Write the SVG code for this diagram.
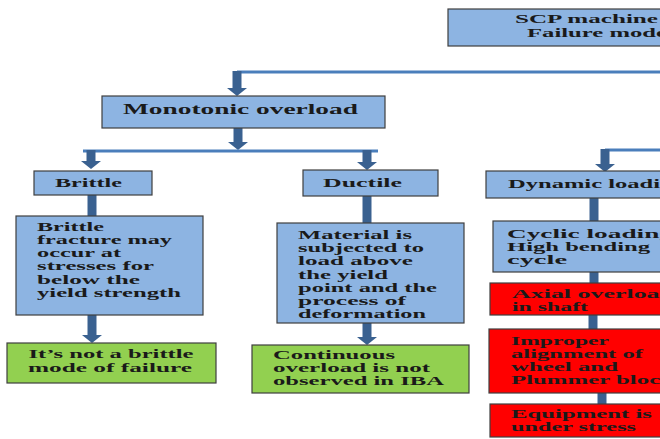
<svg xmlns="http://www.w3.org/2000/svg" width="660" height="439" viewBox="0 0 660 439">
<style>
.b{fill:#8DB4E2;stroke:#3f3f3f;stroke-width:1.2}
.r{fill:#FF0000;stroke:#3f3f3f;stroke-width:1.2}
.g{fill:#92D050;stroke:#3f3f3f;stroke-width:1.2}
.t{font-family:"Liberation Serif","Times New Roman",serif;font-size:12px;font-weight:bold;fill:#1a1a1a}
.bar{stroke:#3A6190;stroke-width:9;fill:none}
.thin{stroke:#4A7EBB;stroke-width:3;fill:none}
</style>
<defs>
<marker id="ah" markerUnits="userSpaceOnUse" viewBox="0 0 8 20" markerWidth="8" markerHeight="20" refX="0" refY="10" orient="auto">
<path d="M0,0 L8,10 L0,20 z" fill="#3A6190"/>
</marker>
</defs>
<rect width="660" height="439" fill="#ffffff"/>
<g id="connectors">
<path class="thin" d="M660,72 H237"/>
<line class="bar" x1="237" y1="71" x2="237" y2="88" marker-end="url(#ah)"/>
<line class="bar" x1="238" y1="128" x2="238" y2="142" marker-end="url(#ah)"/>
<path class="thin" d="M83,151 H378"/>
<line class="bar" x1="91" y1="150" x2="91" y2="161" marker-end="url(#ah)"/>
<line class="bar" x1="367" y1="150" x2="367" y2="162" marker-end="url(#ah)"/>
<path class="thin" d="M660,150 H605"/>
<line class="bar" x1="605" y1="149" x2="605" y2="164" marker-end="url(#ah)"/>
<line class="bar" x1="92" y1="195" x2="92" y2="216"/>
<line class="bar" x1="92" y1="315" x2="92" y2="335" marker-end="url(#ah)"/>
<line class="bar" x1="367" y1="196" x2="367" y2="223"/>
<line class="bar" x1="367" y1="323" x2="367" y2="337" marker-end="url(#ah)"/>
<line class="bar" x1="594" y1="198" x2="594" y2="221"/>
<line class="bar" x1="594" y1="272" x2="594" y2="283"/>
<line class="bar" x1="593" y1="315" x2="593" y2="329"/>
<line class="bar" x1="602" y1="393" x2="602" y2="404"/>
</g>
<g id="scp">
<rect class="b" x="448" y="9" width="230" height="37"/>
<text class="t" style="font-size:13.5px" x="515" y="23" textLength="143" lengthAdjust="spacingAndGlyphs">SCP machine</text>
<text class="t" style="font-size:13.5px" x="527" y="37" textLength="140" lengthAdjust="spacingAndGlyphs">Failure mode</text>
</g>
<g id="monotonic">
<rect class="b" x="102" y="96" width="283" height="32"/>
<text class="t" style="font-size:15px" x="123" y="114" textLength="235" lengthAdjust="spacingAndGlyphs">Monotonic overload</text>
</g>
<g id="brittle">
<rect class="b" x="34" y="171" width="118" height="24"/>
<text class="t" x="55" y="187" textLength="67" lengthAdjust="spacingAndGlyphs">Brittle</text>
</g>
<g id="brittle-desc">
<rect class="b" x="16" y="216" width="187" height="99"/>
<text class="t" x="37" y="231" textLength="67" lengthAdjust="spacingAndGlyphs">Brittle</text>
<text class="t" x="37" y="244" textLength="135" lengthAdjust="spacingAndGlyphs">fracture may</text>
<text class="t" x="37" y="257" textLength="84" lengthAdjust="spacingAndGlyphs">occur at</text>
<text class="t" x="37" y="270" textLength="117" lengthAdjust="spacingAndGlyphs">stresses for</text>
<text class="t" x="37" y="284" textLength="103" lengthAdjust="spacingAndGlyphs">below the</text>
<text class="t" x="37" y="297" textLength="144" lengthAdjust="spacingAndGlyphs">yield strength</text>
</g>
<g id="brittle-result">
<rect class="g" x="7" y="343" width="209" height="40"/>
<text class="t" x="111" y="358" text-anchor="middle" textLength="165" lengthAdjust="spacingAndGlyphs">It’s not a brittle</text>
<text class="t" x="110" y="372" text-anchor="middle" textLength="164" lengthAdjust="spacingAndGlyphs">mode of failure</text>
</g>
<g id="ductile">
<rect class="b" x="303" y="170" width="135" height="26"/>
<text class="t" x="323" y="187" textLength="79" lengthAdjust="spacingAndGlyphs">Ductile</text>
</g>
<g id="ductile-desc">
<rect class="b" x="277" y="223" width="187" height="100"/>
<text class="t" x="298" y="239" textLength="114" lengthAdjust="spacingAndGlyphs">Material is</text>
<text class="t" x="298" y="252" textLength="126" lengthAdjust="spacingAndGlyphs">subjected to</text>
<text class="t" x="298" y="265" textLength="115" lengthAdjust="spacingAndGlyphs">load above</text>
<text class="t" x="298" y="279" textLength="90" lengthAdjust="spacingAndGlyphs">the yield</text>
<text class="t" x="298" y="292" textLength="139" lengthAdjust="spacingAndGlyphs">point and the</text>
<text class="t" x="298" y="305" textLength="108" lengthAdjust="spacingAndGlyphs">process of</text>
<text class="t" x="298" y="318" textLength="128" lengthAdjust="spacingAndGlyphs">deformation</text>
</g>
<g id="ductile-result">
<rect class="g" x="252" y="345" width="217" height="48"/>
<text class="t" x="273" y="359" textLength="122" lengthAdjust="spacingAndGlyphs">Continuous</text>
<text class="t" x="273" y="372" textLength="157" lengthAdjust="spacingAndGlyphs">overload is not</text>
<text class="t" x="273" y="385" textLength="171" lengthAdjust="spacingAndGlyphs">observed in IBA</text>
</g>
<g id="dynamic">
<rect class="b" x="486" y="171" width="200" height="27"/>
<text class="t" x="508" y="188" textLength="178" lengthAdjust="spacingAndGlyphs">Dynamic loading</text>
</g>
<g id="cyclic">
<rect class="b" x="493" y="221" width="200" height="51"/>
<text class="t" x="507" y="238" textLength="166" lengthAdjust="spacingAndGlyphs">Cyclic loading</text>
<text class="t" x="507" y="251" textLength="143" lengthAdjust="spacingAndGlyphs">High bending</text>
<text class="t" x="507" y="264" textLength="60" lengthAdjust="spacingAndGlyphs">cycle</text>
</g>
<g id="axial">
<rect class="r" x="490" y="283" width="200" height="32"/>
<text class="t" x="512" y="298" textLength="162" lengthAdjust="spacingAndGlyphs">Axial overload</text>
<text class="t" x="512" y="311" textLength="76" lengthAdjust="spacingAndGlyphs">in shaft</text>
</g>
<g id="alignment">
<rect class="r" x="489" y="329" width="200" height="64"/>
<text class="t" x="511" y="345" textLength="98" lengthAdjust="spacingAndGlyphs">Improper</text>
<text class="t" x="511" y="358" textLength="132" lengthAdjust="spacingAndGlyphs">alignment of</text>
<text class="t" x="511" y="371" textLength="107" lengthAdjust="spacingAndGlyphs">wheel and</text>
<text class="t" x="511" y="384" textLength="163" lengthAdjust="spacingAndGlyphs">Plummer block</text>
</g>
<g id="stress">
<rect class="r" x="490" y="404" width="200" height="33"/>
<text class="t" x="511" y="418" textLength="141" lengthAdjust="spacingAndGlyphs">Equipment is</text>
<text class="t" x="511" y="431" textLength="125" lengthAdjust="spacingAndGlyphs">under stress</text>
</g>
</svg>
